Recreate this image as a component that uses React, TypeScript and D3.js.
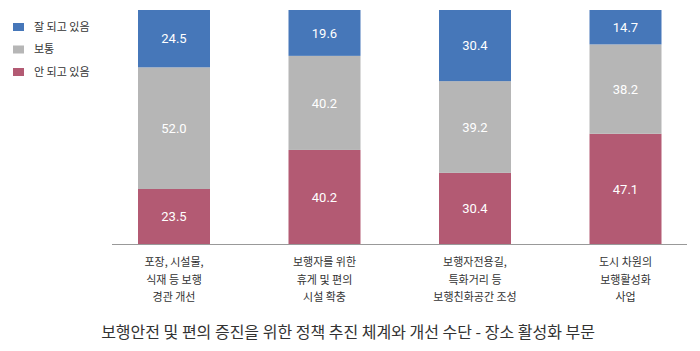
import React from "react";
import * as d3 from "d3";

const categories = [
  ["포장, 시설물,", "식재 등 보행", "경관 개선"],
  ["보행자를 위한", "휴게 및 편의", "시설 확충"],
  ["보행자전용길,", "특화거리 등", "보행친화공간 조성"],
  ["도시 차원의", "보행활성화", "사업"],
];
const seriesNames = ["안 되고 있음", "보통", "잘 되고 있음"];
const bad = [23.5, 40.2, 30.4, 47.1];
const normal = [52.0, 40.2, 39.2, 38.2];
const good = [24.5, 19.6, 30.4, 14.7];
const colors = ["#b35a73", "#b6b6b6", "#4677b9"];
const title = "보행안전 및 편의 증진을 위한 정책 추진 체계와 개선 수단 - 장소 활성화 부문";

const font = "'Noto Sans CJK KR', 'Noto Sans', sans-serif";

export default function App() {
  const width = 700;
  const height = 351;
  const rows = categories.map((c, i) => ({ key: i, bad: bad[i], normal: normal[i], good: good[i] }));
  const stack = d3.stack<any>().keys(["bad", "normal", "good"]);
  const series = stack(rows);

  const x = d3.scalePoint<number>().domain(d3.range(categories.length)).range([174, 625.5]);
  const barW = 72;
  const y = d3.scaleLinear().domain([0, 100]).range([244, 10]);

  const legendOrder = [2, 1, 0];

  return (
    <svg width={width} height={height} style={{ position: "absolute", left: 0, top: 0 }} fontFamily={font}>
      {series.map((s, si) => (
        <g key={si}>
          {s.map((d, i) => {
            const y0 = y(d[1]);
            const y1 = y(d[0]);
            const v = d[1] - d[0];
            return (
              <g key={i}>
                <rect x={(x(i) as number) - barW / 2} y={y0} width={barW} height={y1 - y0} fill={colors[si]} />
                <text
                  x={x(i)}
                  y={(y0 + y1) / 2}
                  dy="0.36em"
                  textAnchor="middle"
                  fill="#fff"
                  fontSize={13}
                  fontFamily="Roboto, sans-serif"
                >
                  {v.toFixed(1)}
                </text>
              </g>
            );
          })}
        </g>
      ))}
      <line x1={112} x2={687} y1={y(0) + 0.5} y2={y(0) + 0.5} stroke="#999" strokeWidth={1} />
      {categories.map((lines, i) => (
        <text key={i} textAnchor="middle" fontSize={11} fill="#333">
          {lines.map((l, j) => (
            <tspan key={j} x={x(i)} y={266 + j * 17.5}>
              {l}
            </tspan>
          ))}
        </text>
      ))}
      {legendOrder.map((si, k) => (
        <g key={si} transform={`translate(13, ${27 + k * 22.5})`}>
          <rect x={0} y={-4} width={11} height={8} fill={colors[si]} />
          <text x={21} y={0} dy="0.36em" fontSize={11} fill="#333">
            {seriesNames[si]}
          </text>
        </g>
      ))}
      <text x={348} y={332} dy="0.36em" textAnchor="middle" fontSize={16} fill="#333">
        {title}
      </text>
    </svg>
  );
}
